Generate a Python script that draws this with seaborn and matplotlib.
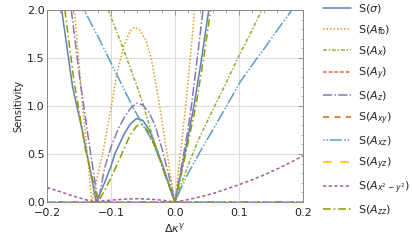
import numpy as np
import pandas as pd
import matplotlib
matplotlib.use("Agg")
import matplotlib.pyplot as plt
from matplotlib.ticker import MultipleLocator
import seaborn as sns

# values
x_sigma = [-0.177, -0.16, -0.144, -0.133, -0.123, -0.11, -0.1, -0.094, -0.08, -0.07, -0.06, -0.05, -0.04, -0.03, -0.02, -0.01, 0.0, 0.01, 0.02, 0.03, 0.04, 0.053]
y_sigma = [2.0, 1.2, 0.72, 0.35, 0.0, 0.2, 0.37, 0.5, 0.7, 0.81, 0.87, 0.85, 0.75, 0.58, 0.4, 0.2, 0.0, 0.32, 0.66, 1.01, 1.42, 2.0]

x_fb = [-0.157, -0.15, -0.145, -0.14, -0.135, -0.13, -0.12, -0.113, -0.1, -0.09, -0.08, -0.07, -0.063, -0.055, -0.045, -0.0365, -0.025, -0.0157, -0.008, 0.0, 0.01, 0.017, 0.024, 0.031]
y_fb = [2.0, 1.45, 1.05, 0.72, 0.38, 0.0, 0.3, 0.5, 0.97, 1.36, 1.62, 1.78, 1.82, 1.79, 1.68, 1.48, 1.05, 0.65, 0.33, 0.0, 0.58, 1.01, 1.5, 2.0]

x_ax = [-0.1045, -0.09, -0.08, -0.07, -0.06, -0.05, -0.04, -0.03, -0.02, -0.01, 0.0, 0.01, 0.02, 0.03, 0.039, 0.06, 0.08, 0.1, 0.12, 0.136]
y_ax = [2.0, 1.76, 1.58, 1.40, 1.22, 1.02, 0.80, 0.58, 0.38, 0.19, 0.0, 0.19, 0.37, 0.54, 0.68, 0.97, 1.24, 1.52, 1.78, 2.0]

x_flat = [-0.2, -0.1, 0.0, 0.1, 0.2]
y_ay = [0.0, 0.0, 0.0, 0.0, 0.0]
y_axy = [0.0, 0.0, 0.0, 0.0, 0.0]
y_ayz = [0.0, 0.0, 0.0, 0.0, 0.0]

x_az = [-0.162, -0.149, -0.135, -0.12, -0.11, -0.1, -0.09, -0.08, -0.07, -0.06, -0.05, -0.04, -0.03, -0.02, -0.01, 0.0, 0.01, 0.02, 0.026, 0.035, 0.044]
y_az = [2.0, 1.3, 0.65, 0.0, 0.35, 0.57, 0.74, 0.87, 0.97, 1.03, 1.01, 0.93, 0.78, 0.55, 0.29, 0.0, 0.36, 0.74, 1.01, 1.5, 2.0]

x_axz = [-0.142, -0.12, -0.1, -0.08, -0.065, -0.05, -0.039, -0.03, -0.02, -0.01, 0.0, 0.01, 0.02, 0.03, 0.039, 0.06, 0.08, 0.102, 0.12, 0.14, 0.16, 0.183]
y_axz = [2.0, 1.72, 1.45, 1.18, 0.98, 0.8, 0.68, 0.55, 0.37, 0.18, 0.0, 0.15, 0.29, 0.41, 0.52, 0.76, 0.99, 1.25, 1.42, 1.6, 1.79, 2.0]

x_x2y2 = [-0.2, -0.18, -0.16, -0.14, -0.125, -0.11, -0.1, -0.08, -0.06, -0.04, -0.02, 0.0, 0.02, 0.04, 0.06, 0.08, 0.1, 0.12, 0.14, 0.16, 0.18, 0.2]
y_x2y2 = [0.15, 0.11, 0.065, 0.025, 0.0, 0.015, 0.02, 0.03, 0.035, 0.03, 0.02, 0.0, 0.025, 0.055, 0.09, 0.135, 0.18, 0.23, 0.285, 0.345, 0.41, 0.48]

x_zz = [-0.172, -0.158, -0.14, -0.12, -0.11, -0.1, -0.09, -0.083, -0.07, -0.06, -0.055, -0.05, -0.04, -0.03, -0.02, -0.01, 0.0, 0.01, 0.02, 0.033, 0.045, 0.056]
y_zz = [2.0, 1.27, 0.55, 0.0, 0.12, 0.25, 0.4, 0.5, 0.7, 0.79, 0.81, 0.8, 0.72, 0.56, 0.38, 0.19, 0.0, 0.29, 0.6, 1.01, 1.5, 2.0]

labels = [r"S($\sigma$)", r"S($A_{\mathrm{fb}}$)", r"S($A_x$)", r"S($A_y$)", r"S($A_z$)",
          r"S($A_{xy}$)", r"S($A_{xz}$)", r"S($A_{yz}$)", r"S($A_{x^2-y^2}$)", r"S($A_{zz}$)"]

# Mathematica default palette
colors = ["#5E81B5", "#E19C24", "#8FB032", "#EB6235", "#8778B3",
          "#C56E1A", "#5D9EC7", "#FFBF00", "#A5609D", "#929600"]
styles = ["-", (0, (1, 1.3)), (0, (2.5, 1.2, 1, 1.2)), (0, (2.5, 1.2)), (0, (6, 1.5, 1, 1.5)),
          (0, (4, 3.5)), (0, (1, 1.2, 1, 1.2, 8, 1.5)), (0, (6, 5)), (0, (2.2, 1.5)), (0, (5, 2, 1, 2))]

series = [(x_sigma, y_sigma), (x_fb, y_fb), (x_ax, y_ax), (x_flat, y_ay), (x_az, y_az),
          (x_flat, y_axy), (x_axz, y_axz), (x_flat, y_ayz), (x_x2y2, y_x2y2), (x_zz, y_zz)]

sns.set_theme(style="white")
plt.rcParams['font.family'] = ['DejaVu Sans']
plt.rcParams['mathtext.fontset'] = 'dejavusans'

fig = plt.figure(figsize=(4.12, 2.42), dpi=100)
ax = fig.add_axes([0.114, 0.165, 0.621, 0.794])

for (xs, ys), lab, c, ls in zip(series, labels, colors, styles):
    sns.lineplot(x=xs, y=ys, ax=ax, color=c, linestyle=ls, linewidth=1.1,
                 label=lab, errorbar=None)

ax.set_xlim(-0.2, 0.2)
ax.set_ylim(0, 2.0)
ax.xaxis.set_major_locator(MultipleLocator(0.1))
ax.xaxis.set_minor_locator(MultipleLocator(0.02))
ax.yaxis.set_major_locator(MultipleLocator(0.5))
ax.yaxis.set_minor_locator(MultipleLocator(0.1))
ax.xaxis.set_major_formatter(plt.FuncFormatter(lambda v, p: f"{v:.1f}".replace("-0.0", "0.0").replace("-", "\u2212")))
ax.yaxis.set_major_formatter(plt.FuncFormatter(lambda v, p: f"{v:.1f}"))
ax.grid(True, which='major', color='#dddddd', linewidth=0.8)
ax.set_axisbelow(True)
ax.tick_params(which='both', direction='in', top=True, right=True, color='#888888',
               labelsize=8, labelcolor='#222222')
ax.tick_params(axis='x', pad=4.5)
ax.tick_params(axis='y', pad=1.5)
ax.tick_params(which='major', length=3.5, width=0.6)
ax.tick_params(which='minor', length=1.8, width=0.5)
for s in ax.spines.values():
    s.set_color('#888888')
    s.set_linewidth(0.7)

ax.set_xlabel(r"Δ$\kappa^{\gamma}$", fontsize=8, labelpad=2)
ax.set_ylabel("Sensitivity", fontsize=7.2, labelpad=3)

ax.legend(loc='upper left', bbox_to_anchor=(0.783, 0.99), bbox_transform=fig.transFigure,
          frameon=False, fontsize=8, handlelength=2.6, handletextpad=0.55,
          labelspacing=0.68, borderaxespad=0, borderpad=0)

fig.savefig("out.png", dpi=100)
